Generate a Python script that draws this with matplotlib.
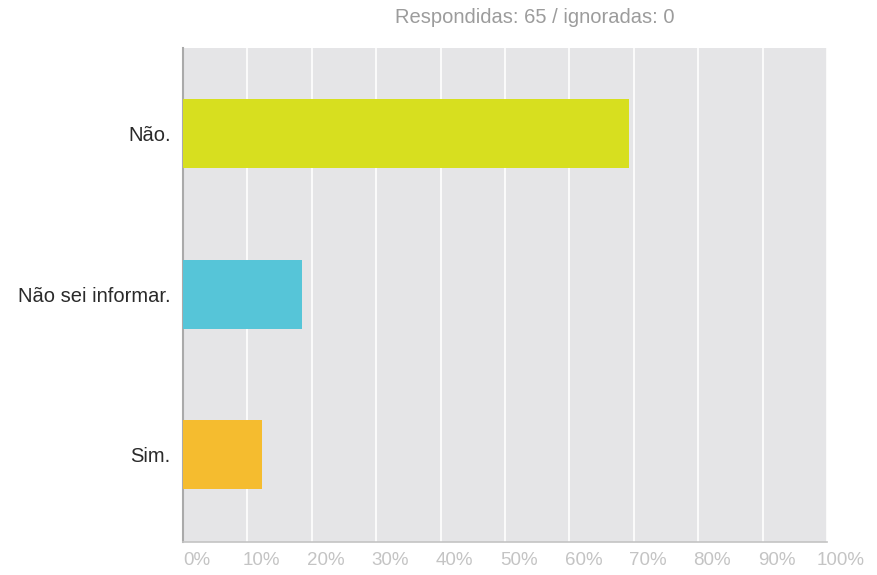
import matplotlib
matplotlib.use("Agg")
import matplotlib.pyplot as plt
import matplotlib.transforms as mtransforms
import numpy as np

plt.rcParams['font.family'] = ['Liberation Sans', 'DejaVu Sans']

categories = ["Não.", "Não sei informar.", "Sim."]
percents = [69.23, 18.46, 12.31]
colors = ["#d7df1f", "#56c5d8", "#f5bc2f"]
xticks = [0, 10, 20, 30, 40, 50, 60, 70, 80, 90, 100]

fig = plt.figure(figsize=(8.77, 5.75), dpi=100)
ax = fig.add_axes([0.2087, 0.0574, 0.7343, 0.8591])
ax.set_facecolor("#e5e5e7")

y = np.arange(len(categories))
ax.barh(y, percents, height=0.43, color=colors, zorder=3)

ax.set_xlim(0, 100)
ax.set_ylim(2.545, -0.533)
ax.set_xticks(xticks)
ax.set_xticklabels([f"{t}%" for t in xticks])
ax.set_yticks(y)
ax.set_yticklabels(categories)
ax.tick_params(axis='x', labelsize=13.5, length=0, pad=7)
ax.tick_params(axis='y', labelsize=14.5, length=0, pad=9)
# tick labels sit a bit right of their gridlines in the original
shift = mtransforms.ScaledTranslation(14 / 100, 0, fig.dpi_scale_trans)
for lbl in ax.get_xticklabels():
    lbl.set_color("#c4c4c4")
    lbl.set_transform(lbl.get_transform() + shift)
for lbl in ax.get_yticklabels():
    lbl.set_color("#2a2a2a")

ax.grid(axis='x', color="white", linewidth=1.2, zorder=1)
ax.set_axisbelow(True)

for s in ['top', 'right']:
    ax.spines[s].set_visible(False)
ax.spines['left'].set_color("#aaaaaa")
ax.spines['left'].set_linewidth(1.5)
ax.spines['bottom'].set_color("#c4c4c4")
ax.spines['bottom'].set_linewidth(1.2)

fig.text(0.61, 0.969, "Respondidas: 65 / ignoradas: 0", color="#9c9c9c",
         fontsize=14.5, ha='center', va='center')

fig.savefig("out.png", dpi=100)
